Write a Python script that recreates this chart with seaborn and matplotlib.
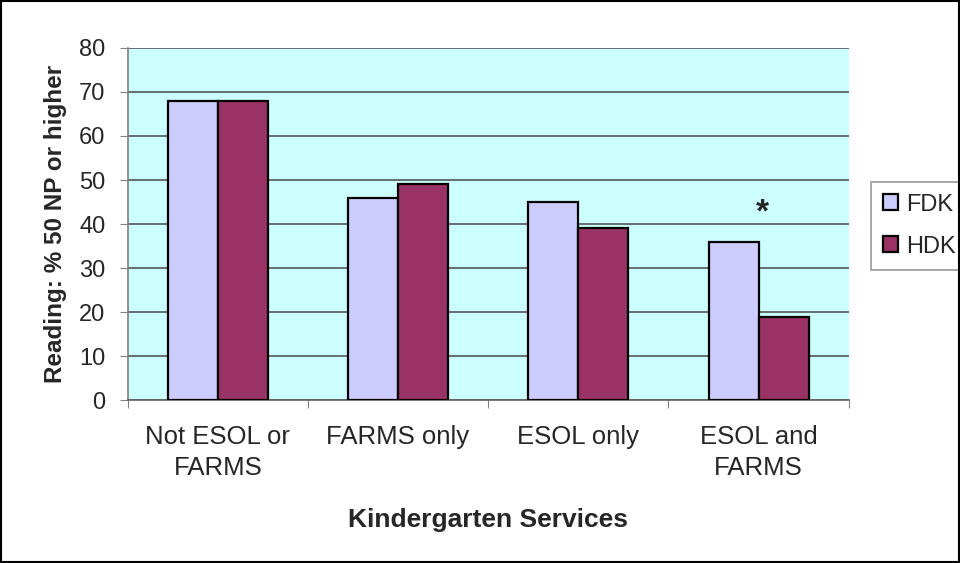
import matplotlib
matplotlib.use("Agg")
import matplotlib.pyplot as plt
import seaborn as sns
import pandas as pd

kategori = ["Not ESOL or\nFARMS", "FARMS only", "ESOL only", "ESOL and\nFARMS"]
nilai_fdk = [68, 46, 45, 36]
nilai_hdk = [68, 49, 39, 19]
label_seri = ["FDK", "HDK"]
yticks = list(range(0, 81, 10))

df = pd.DataFrame({
    "kategori": kategori * 2,
    "nilai": nilai_fdk + nilai_hdk,
    "seri": [label_seri[0]] * 4 + [label_seri[1]] * 4,
})

sns.set_style("white")
plt.rcParams["font.family"] = ["Liberation Sans", "DejaVu Sans"]

fig = plt.figure(figsize=(9.6, 5.63), dpi=100)
ax = fig.add_axes([0.133, 0.289, 0.751, 0.626])
ax.set_facecolor("#CCFFFF")

sns.barplot(
    data=df, x="kategori", y="nilai", hue="seri",
    palette=["#CCCCFF", "#993366"],
    width=0.555, gap=0, edgecolor="black", linewidth=1.6,
    saturation=1, ax=ax, zorder=3,
)

ax.set_ylim(0, 80)
ax.set_xlim(-0.5, 3.5)
ax.set_yticks(yticks)
ax.tick_params(axis="y", labelsize=17, length=6, pad=10, direction="out",
               color="#808080", left=True)
ax.yaxis.grid(True, color="#555555", linewidth=1.2, zorder=0)
ax.set_axisbelow(True)

# tick marks at category boundaries, labels at centers
ax.set_xticks([-0.5, 0.5, 1.5, 2.5, 3.5])
ax.set_xticklabels([])
ax.tick_params(axis="x", which="major", length=6, direction="out", color="#808080", bottom=True)
ax.set_xticks(range(4), minor=True)
ax.set_xticklabels(kategori, minor=True, fontsize=18.5, linespacing=1.36)
ax.tick_params(axis="x", which="minor", length=0, pad=18)

for sisi in ["top", "right"]:
    ax.spines[sisi].set_visible(False)
ax.spines["left"].set_color("#808080")
ax.spines["bottom"].set_color("#606060")
ax.spines["left"].set_linewidth(1.2)
ax.spines["bottom"].set_linewidth(1.2)

ax.set_xlabel("Kindergarten Services", fontsize=19, fontweight="bold", labelpad=20)
ax.set_ylabel("Reading: % 50 NP or higher", fontsize=17.5, fontweight="bold", labelpad=9)

ax.text(3.02, 42.5, "*", fontsize=24, fontweight="bold", ha="center", va="center")

leg = ax.legend(
    loc="upper left", bbox_to_anchor=(0.907, 0.677), bbox_transform=fig.transFigure,
    fontsize=17, frameon=True, fancybox=False, edgecolor="#808080",
    handlelength=0.66, handleheight=0.66, handletextpad=0.35, borderpad=0.5,
    labelspacing=0.85, borderaxespad=0,
)
leg.get_frame().set_linewidth(1.2)
for h in leg.legend_handles:
    h.set_linewidth(1.6)

fig.patches.append(plt.Rectangle((0.001, 0.001), 0.998, 0.998, transform=fig.transFigure,
                                 fill=False, edgecolor="black", linewidth=1.5))

fig.savefig("out.png", dpi=100)
